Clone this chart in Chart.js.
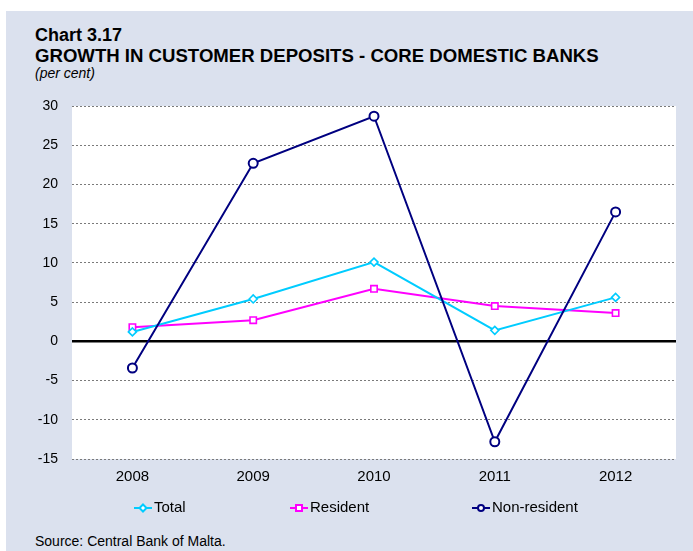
<!DOCTYPE html>
<html>
<head>
<meta charset="utf-8">
<script src="https://cdn.jsdelivr.net/npm/chart.js@4/dist/chart.umd.min.js"></script>
<style>
  html, body { margin: 0; padding: 0; background: #ffffff; }
  #page { position: relative; width: 693px; height: 551px; overflow: hidden; background: #ffffff; font-family: "Liberation Sans", Arial, sans-serif; }
  #panel { position: absolute; left: 6px; top: 11px; right: 0; bottom: 0; background: #DBE1EE; }
  .txt { position: absolute; left: 35px; white-space: nowrap; color: #000; }
  #t1 { top: 26px; font-size: 18px; line-height: 18px; font-weight: bold; }
  #t2 { top: 46.5px; font-size: 18.6px; line-height: 18.6px; font-weight: bold; }
  #t3 { top: 66px; font-size: 14px; line-height: 14px; font-style: italic; }
  #src { top: 534px; font-size: 14px; line-height: 14px; }
  #wrap { position: absolute; left: 0; top: 0; width: 693px; height: 551px; }
</style>
</head>
<body>
<div id="page">
  <div id="panel"></div>
  <div class="txt" id="t1">Chart 3.17</div>
  <div class="txt" id="t2">GROWTH IN CUSTOMER DEPOSITS - CORE DOMESTIC BANKS</div>
  <div class="txt" id="t3">(per cent)</div>
  <div class="txt" id="src">Source: Central Bank of Malta.</div>
  <div id="wrap"><canvas id="chart" width="693" height="551"></canvas></div>
</div>
<script>
// Annual growth rates of customer deposits, per cent
const years = ['2008', '2009', '2010', '2011', '2012'];
const total = [1.2, 5.4, 10.1, 1.4, 5.6];
const resident = [1.8, 2.7, 6.7, 4.5, 3.6];
const nonResident = [-3.4, 22.7, 28.7, -12.8, 16.5];
const yTicks = [-15, -10, -5, 0, 5, 10, 15, 20, 25, 30];

const FONT = '"Liberation Sans", Arial, sans-serif';

const series = [
  { label: 'Total', data: total, color: '#00CCFF', style: 'rectRot', radius: 4, order: 1 },
  { label: 'Resident', data: resident, color: '#FF00FF', style: 'rect', radius: 4.5, order: 2 },
  { label: 'Non-resident', data: nonResident, color: '#000080', style: 'circle', radius: 4.5, order: 0 }
];

// legend item layout: line start, line end, text start
const legendSlots = [
  { x1: 134, x2: 152, tx: 154 },
  { x1: 290, x2: 308, tx: 310 },
  { x1: 472, x2: 490, tx: 492 }
];
const legendY = 508;

function marker(ctx, style, x, y, r) {
  ctx.beginPath();
  if (style === 'circle') {
    ctx.arc(x, y, r, 0, Math.PI * 2);
  } else if (style === 'rect') {
    ctx.rect(x - r, y - r, 2 * r, 2 * r);
  } else {
    ctx.moveTo(x, y - r); ctx.lineTo(x + r, y); ctx.lineTo(x, y + r); ctx.lineTo(x - r, y); ctx.closePath();
  }
  ctx.fill();
  ctx.stroke();
}

const plotBackground = {
  id: 'plotBackground',
  beforeDraw(chart) {
    const a = chart.chartArea, ctx = chart.ctx;
    ctx.save();
    ctx.fillStyle = '#ffffff';
    ctx.fillRect(a.left, a.top, a.right - a.left, a.bottom - a.top);
    ctx.restore();
  }
};

const lineLegend = {
  id: 'lineLegend',
  afterDraw(chart) {
    const ctx = chart.ctx;
    ctx.save();
    series.forEach((s, i) => {
      const slot = legendSlots[i];
      ctx.strokeStyle = s.color;
      ctx.lineWidth = 2;
      ctx.beginPath();
      ctx.moveTo(slot.x1, legendY);
      ctx.lineTo(slot.x2, legendY);
      ctx.stroke();
      ctx.fillStyle = '#ffffff';
      marker(ctx, s.style, (slot.x1 + slot.x2) / 2, legendY, s.style === 'rectRot' ? 3.5 : 3);
      ctx.fillStyle = '#000000';
      ctx.font = '15px ' + FONT;
      ctx.textAlign = 'left';
      ctx.textBaseline = 'middle';
      ctx.fillText(s.label, slot.tx, legendY);
    });
    ctx.restore();
  }
};

new Chart(document.getElementById('chart'), {
  type: 'line',
  data: {
    labels: years,
    datasets: series.map(s => ({
      label: s.label,
      data: s.data,
      order: s.order,
      borderColor: s.color,
      borderWidth: 2,
      pointStyle: s.style,
      pointRadius: s.radius,
      pointBackgroundColor: '#ffffff',
      pointBorderColor: s.color,
      pointBorderWidth: s.style === 'circle' ? 2 : 1.6,
      tension: 0,
      fill: false
    }))
  },
  options: {
    responsive: false,
    animation: false,
    events: [],
    layout: { padding: { left: 22, right: 17, top: 106, bottom: 52 } },
    plugins: { legend: { display: false }, title: { display: false }, tooltip: { enabled: false } },
    scales: {
      x: {
        offset: true,
        afterFit(scale) { scale.height = 40; },
        grid: { display: false, drawTicks: false },
        border: { display: false },
        ticks: { color: '#000', font: { family: FONT, size: 15 }, padding: 9, maxRotation: 0 }
      },
      y: {
        min: -15,
        max: 30,
        afterFit(scale) { scale.width = 50; },
        afterBuildTicks(scale) { scale.ticks = yTicks.map(v => ({ value: v })); },
        grid: {
          drawTicks: false,
          tickLength: 0,
          color: c => (c.tick && c.tick.value === 0) ? '#000000' : '#7a7a7a',
          lineWidth: c => (c.tick && c.tick.value === 0) ? 2.5 : 1
        },
        border: {
          display: false,
          dash: c => (c.tick && c.tick.value === 0) ? [] : [2, 2]
        },
        ticks: { color: '#000', font: { family: FONT, size: 14 }, padding: 14 }
      }
    }
  },
  plugins: [plotBackground, lineLegend]
});
</script>
</body>
</html>
